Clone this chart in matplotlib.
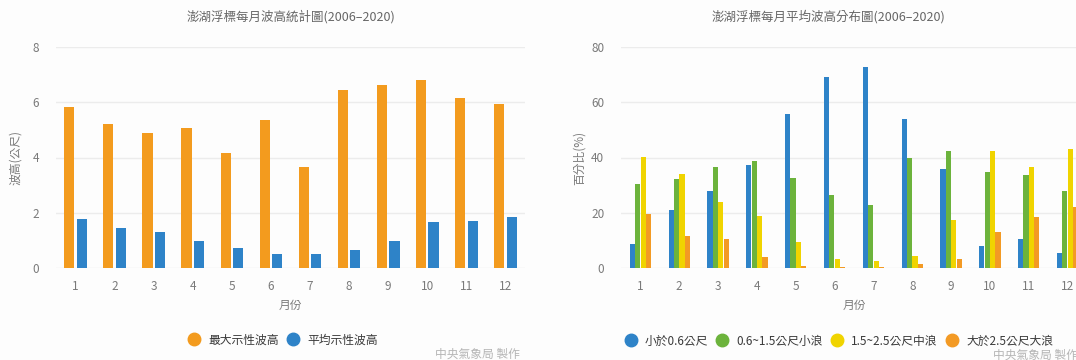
import matplotlib
matplotlib.use("Agg")
import matplotlib.pyplot as plt
import numpy as np
from matplotlib.lines import Line2D

plt.rcParams['font.family'] = ['Noto Sans CJK TC', 'DejaVu Sans']

months = ['1', '2', '3', '4', '5', '6', '7', '8', '9', '10', '11', '12']

# Monthly wave height (m)
max_wave = [5.82, 5.22, 4.87, 5.05, 4.17, 5.34, 3.65, 6.45, 6.63, 6.81, 6.17, 5.95]
mean_wave = [1.76, 1.46, 1.29, 0.98, 0.71, 0.51, 0.51, 0.65, 0.98, 1.66, 1.70, 1.86]

# Monthly distribution of mean wave height (%)
small = [8.7, 21.0, 27.8, 37.2, 55.8, 69.0, 72.6, 54.1, 36.0, 7.8, 10.5, 5.4]
slight = [30.4, 32.2, 36.5, 38.7, 32.7, 26.5, 22.9, 39.9, 42.3, 34.9, 33.7, 27.7]
moderate = [40.2, 34.0, 23.8, 19.0, 9.4, 3.4, 2.6, 4.2, 17.4, 42.3, 36.5, 43.1]
large = [19.5, 11.7, 10.6, 4.0, 0.8, 0.3, 0.5, 1.4, 3.4, 12.9, 18.4, 22.0]

left_title = '澎湖浮標每月波高統計圖(2006–2020)'
right_title = '澎湖浮標每月平均波高分布圖(2006–2020)'
left_series = ['最大示性波高', '平均示性波高']
right_series = ['小於0.6公尺', '0.6~1.5公尺小浪', '1.5~2.5公尺中浪', '大於2.5公尺大浪']
source = '中央氣象局 製作'

ORANGE = '#F39B1E'
BLUE = '#2E83C8'
GREEN = '#6CB33C'
YELLOW = '#F0D400'
ORANGE2 = '#F39A24'
TXT = '#7a7a7a'
GRID = '#ececec'

W, H = 1076, 360
fig = plt.figure(figsize=(W / 100, H / 100), dpi=100)
fig.patch.set_facecolor('#fdfdfd')


def px_axes(x0, x1, y0, y1):
    return fig.add_axes([x0 / W, 1 - y1 / H, (x1 - x0) / W, (y1 - y0) / H])


def style(ax, ymax, step):
    ax.set_facecolor('none')
    ax.set_ylim(0, ymax)
    ax.set_yticks(np.arange(0, ymax + 0.1, step))
    ax.set_xlim(-0.5, len(months) - 0.5)
    ax.set_xticks(range(len(months)))
    ax.set_xticklabels(months)
    for s in ax.spines.values():
        s.set_visible(False)
    ax.grid(axis='y', color=GRID, linewidth=1.0)
    ax.set_axisbelow(True)
    ax.tick_params(length=0, colors=TXT, labelsize=8.5, pad=9)
    ax.tick_params(axis='y', pad=12)


x = np.arange(len(months))

# Left chart: max vs mean significant wave height
ax1 = px_axes(56, 525, 47, 268)
style(ax1, 8, 2)
bw = 0.26
ax1.bar(x - bw / 2 - 0.03, max_wave, bw, color=ORANGE)
ax1.bar(x + bw / 2 + 0.03, mean_wave, bw, color=BLUE)
ax1.set_xlabel('月份', color=TXT, fontsize=8.5, labelpad=4)
ax1.set_ylabel('波高(公尺)', color=TXT, fontsize=8.5, labelpad=8)
ax1.set_title(left_title, color='#666666', fontsize=9, pad=19)

# Right chart: distribution of mean wave height classes
ax2 = px_axes(621, 1087, 47, 268)
style(ax2, 80, 20)
bw2 = 0.14
series = [small, slight, moderate, large]
colors = [BLUE, GREEN, YELLOW, ORANGE2]
for i, (vals, c) in enumerate(zip(series, colors)):
    ax2.bar(x + (i - 1.5) * bw2, vals, bw2 * 0.95, color=c)
ax2.set_xlabel('月份', color=TXT, fontsize=8.5, labelpad=4)
ax2.set_ylabel('百分比(%)', color=TXT, fontsize=8.5, labelpad=4)
ax2.set_title(right_title, color='#666666', fontsize=9, pad=19)
ax2.title.set_position((0.445, 1.0))


def legend_handles(cols):
    return [Line2D([], [], marker='o', linestyle='none', markersize=9,
                   markerfacecolor=c, markeredgecolor=c) for c in cols]


fig.legend(legend_handles([ORANGE, BLUE]), left_series, loc='center',
           bbox_to_anchor=(280 / W, 1 - 340 / H), ncol=2, frameon=False,
           fontsize=8.5, handletextpad=0.2, columnspacing=0.2,
           labelcolor='#3a3a3a')
fig.legend(legend_handles(colors), right_series, loc='center',
           bbox_to_anchor=(836 / W, 1 - 341 / H), ncol=4, frameon=False,
           fontsize=8.5, handletextpad=0.2, columnspacing=0.2,
           labelcolor='#3a3a3a')

fig.text(520 / W, 1 - 354 / H, source, color='#b5b5b5', fontsize=8.5,
         ha='right', va='center')
fig.text(1078 / W, 1 - 355 / H, source, color='#b5b5b5', fontsize=8.5,
         ha='right', va='center')

fig.savefig('out.png', dpi=100, facecolor=fig.get_facecolor())
